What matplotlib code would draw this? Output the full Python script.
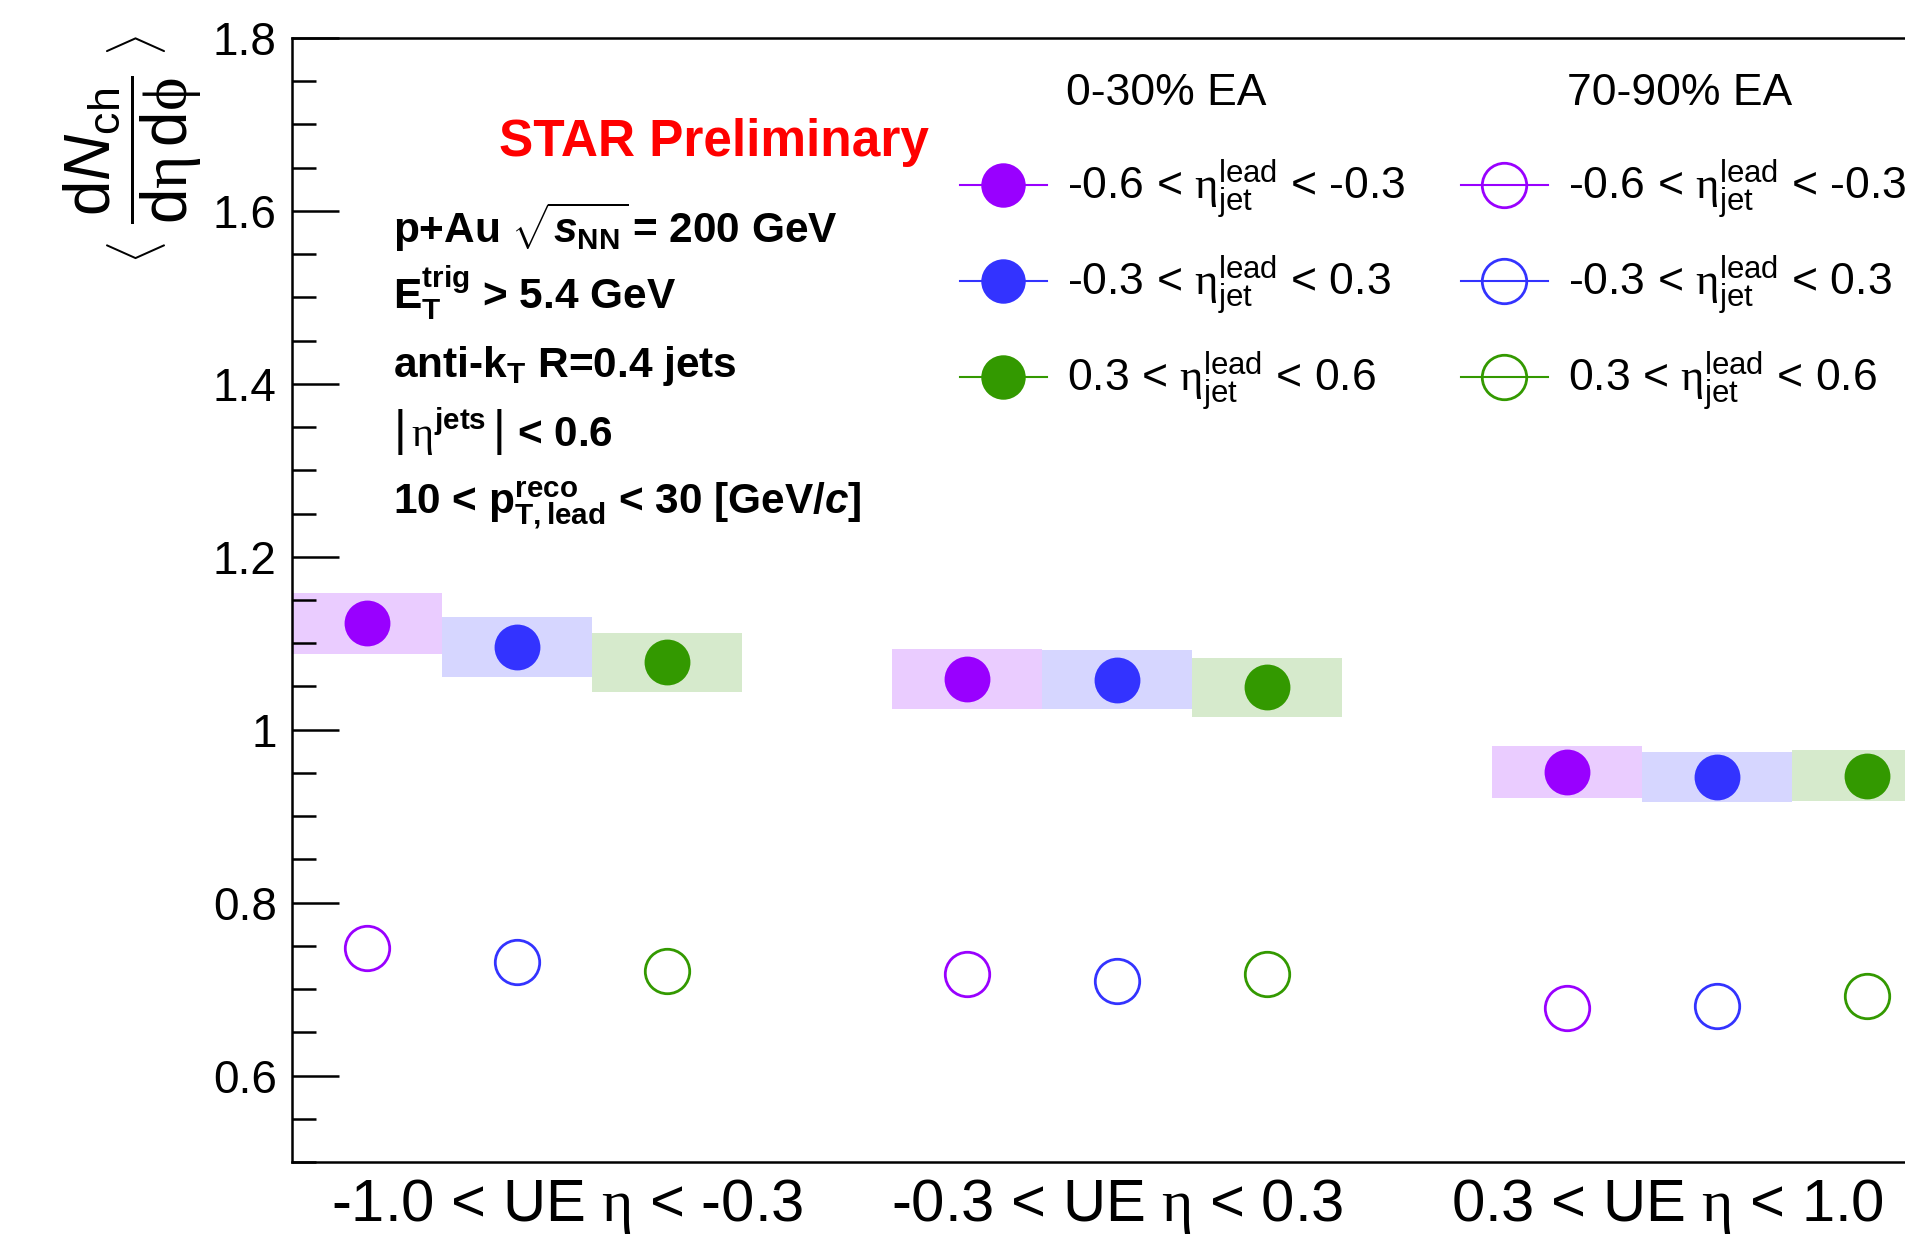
import matplotlib
matplotlib.use('Agg')
import matplotlib.pyplot as plt
from matplotlib.lines import Line2D
from matplotlib.ticker import MultipleLocator, FixedLocator, FuncFormatter
import numpy as np

plt.rcParams['font.family'] = ['Liberation Sans', 'DejaVu Sans']
plt.rcParams['mathtext.fontset'] = 'custom'
plt.rcParams['mathtext.rm'] = 'Liberation Sans'
plt.rcParams['mathtext.it'] = 'Liberation Sans:italic'
plt.rcParams['mathtext.bf'] = 'Liberation Sans:bold'
plt.rcParams['mathtext.bfit'] = 'Liberation Sans:bold:italic'
plt.rcParams['mathtext.sf'] = 'Liberation Serif'

# ---------------- data ----------------
ue_labels = [r"-1.0 < UE $\mathsf{\eta}$ < -0.3",
             r"-0.3 < UE $\mathsf{\eta}$ < 0.3",
             r"0.3 < UE $\mathsf{\eta}$ < 1.0"]
jet_eta_labels = [r"-0.6 < $\mathsf{\eta}_{\mathrm{jet}}^{\mathrm{lead}}$ < -0.3",
                  r"-0.3 < $\mathsf{\eta}_{\mathrm{jet}}^{\mathrm{lead}}$ < 0.3",
                  r"0.3 < $\mathsf{\eta}_{\mathrm{jet}}^{\mathrm{lead}}$ < 0.6"]
ea_headers = ["0-30% EA", "70-90% EA"]
colors = ["#9900ff", "#3333ff", "#339900"]

# 0-30% EA (filled), per jet-eta bin, across the three UE eta bins
high_m06_m03 = [1.123, 1.059, 0.951]
high_m03_p03 = [1.096, 1.058, 0.945]
high_p03_p06 = [1.078, 1.049, 0.947]
# systematic half-heights of boxes
sys_m06_m03 = [0.035, 0.0345, 0.030]
sys_m03_p03 = [0.0345, 0.034, 0.029]
sys_p03_p06 = [0.034, 0.034, 0.0295]
# 70-90% EA (open)
low_m06_m03 = [0.747, 0.718, 0.678]
low_m03_p03 = [0.731, 0.709, 0.681]
low_p03_p06 = [0.721, 0.718, 0.692]

high = [high_m06_m03, high_m03_p03, high_p03_p06]
sysu = [sys_m06_m03, sys_m03_p03, sys_p03_p06]
low = [low_m06_m03, low_m03_p03, low_p03_p06]

# ---------------- figure ----------------
W, H = 1905, 1242
fig = plt.figure(figsize=(W / 100, H / 100), dpi=100)
ax = fig.add_axes([292 / W, 1 - 1162 / H, 1650 / W, (1162 - 38) / H])

n_ue = len(ue_labels)
xmax = 11.0
for i, c in enumerate(colors):
    x = np.arange(n_ue) * 4 + i + 0.5
    y = np.array(high[i])
    e = np.array(sysu[i])
    ax.bar(x, 2 * e, bottom=y - e, width=1.0, color=c, alpha=0.2, linewidth=0)
    ax.plot(x, y, 'o', ms=33, color=c, mec=c, mew=0)
    ax.plot(x, low[i], 'o', ms=32, mfc='none', mec=c, mew=2.0)

ax.set_xlim(0, xmax)
ax.set_ylim(0.5, 1.8)

# axis style
for s in ax.spines.values():
    s.set_linewidth(1.8)
ax.yaxis.set_major_locator(MultipleLocator(0.2))
ax.yaxis.set_minor_locator(MultipleLocator(0.05))
ax.yaxis.set_major_formatter(FuncFormatter(lambda v, p: "%g" % round(v, 3)))
ax.tick_params(axis='y', which='major', direction='in', length=34, width=1.8,
               labelsize=33, pad=11)
ax.tick_params(axis='y', which='minor', direction='in', length=17, width=1.8)
centers = (np.arange(n_ue) + 0.5) * xmax / n_ue
ax.xaxis.set_major_locator(FixedLocator(centers))
ax.set_xticklabels(ue_labels)
ax.tick_params(axis='x', which='both', length=0, labelsize=43, pad=11)
ax.xaxis.set_minor_locator(FixedLocator([]))

# y title: fraction plus separate angle brackets
fig.text(133 / W, 1 - 150 / H,
         r"$\dfrac{\mathrm{d}N_{\mathrm{ch}}}{\mathrm{d}\mathsf{\eta}\,\mathrm{d}\mathsf{\phi}}$",
         rotation=90, ha='center', va='center', fontsize=46)
fig.text(136 / W, 1 - 253 / H, r"$\langle$", rotation=90,
         ha='center', va='center', fontsize=36)
fig.text(136 / W, 1 - 46 / H, r"$\rangle$", rotation=90,
         ha='center', va='center', fontsize=36)

# annotation block
fig.text(499 / W, 1 - 156 / H, "STAR Preliminary", color='#ff0000',
         fontsize=37, fontweight='bold', va='baseline', ha='left')
block = [
    (243, r"p+Au $\sqrt{\mathbfit{s}_{\mathbf{NN}}}\!$ = 200 GeV"),
    (309, r"$\mathbf{E}_{\mathbf{T}}^{\mathbf{trig}}$ > 5.4 GeV"),
    (377, r"anti-$\mathbf{k}_{\mathbf{T}}$ R=0.4 jets"),
    (447, r"$\left|\,\mathsf{\eta}^{\mathbf{jets}}\,\right|$ < 0.6"),
    (513, r"10 < $\mathbf{p}_{\mathbf{T,lead}}^{\mathbf{reco}}$ < 30 [GeV/$\mathbfit{c}$]"),
]
for yb, t in block:
    fig.text(393 / W, 1 - yb / H, t, fontsize=30.5, fontweight='bold',
             va='baseline', ha='left')

# legends (two columns): header text + 3 entries each
fs_leg = 32
for col, (hdr, filled) in enumerate(zip(ea_headers, [True, False])):
    x0 = 960 if col == 0 else 1461
    fig.text((x0 + 106) / W, 1 - 105 / H, hdr, fontsize=fs_leg,
             va='baseline', ha='left')
    handles = []
    for i, c in enumerate(colors):
        handles.append(Line2D([], [], color=c, lw=1.5, marker='o', ms=32,
                              mfc=c if filled else 'none', mec=c,
                              mew=0 if filled else 2.0))
    fig.legend(handles, jet_eta_labels, loc='upper left',
               bbox_to_anchor=(x0 / W, 1 - 158 / H),
               frameon=False, fontsize=fs_leg, borderpad=0,
               borderaxespad=0, handlelength=1.95, handletextpad=0.45,
               labelspacing=0.72)

fig.savefig("out.png", dpi=100)
